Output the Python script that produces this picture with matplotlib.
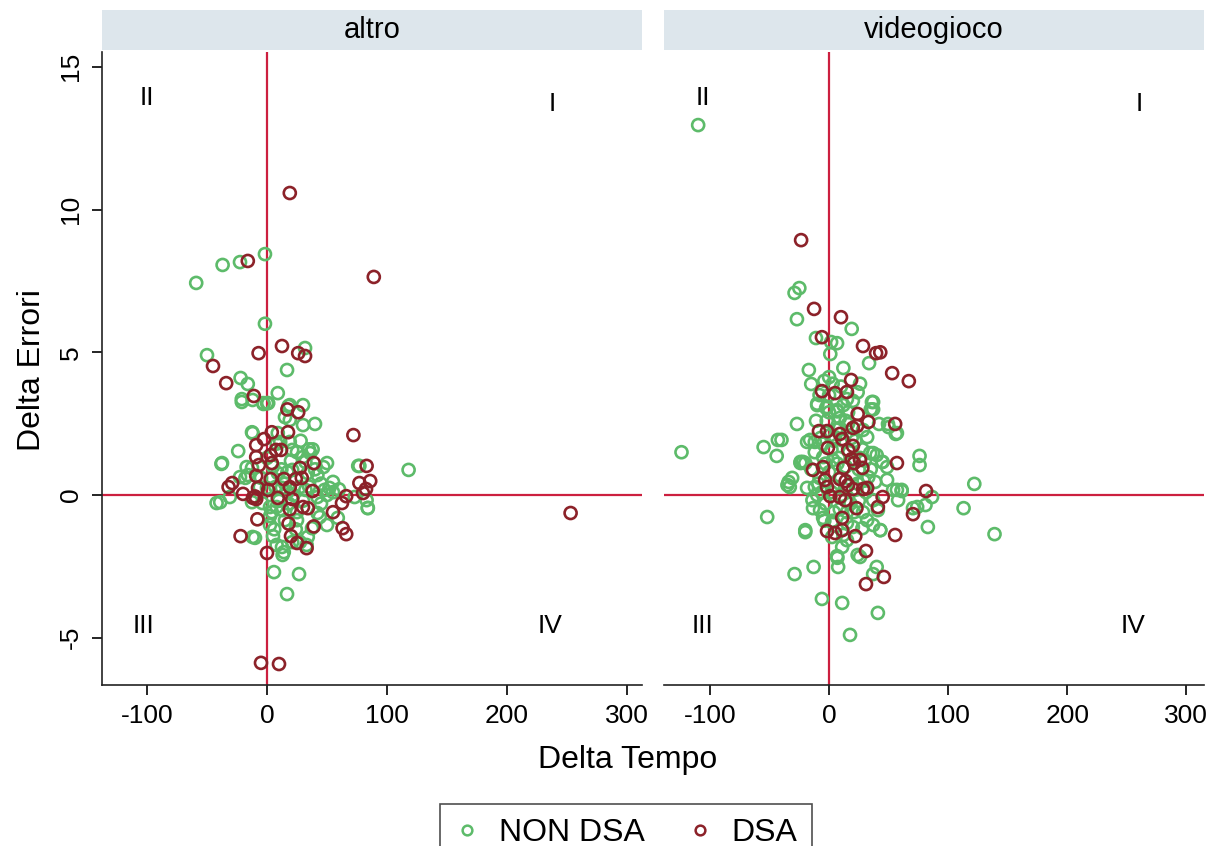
import matplotlib
matplotlib.use("Agg")
import matplotlib.pyplot as plt
from matplotlib.lines import Line2D

plt.rcParams['font.family'] = ['Liberation Sans', 'DejaVu Sans']
plt.rcParams['axes.unicode_minus'] = False

panels = ["altro", "videogioco"]
legend_labels = ["NON DSA", "DSA"]
x_ticks = [-100, 0, 100, 200, 300]
y_ticks = [-5, 0, 5, 10, 15]
x_label = "Delta Tempo"
y_label = "Delta Errori"
quadrants = ["I", "II", "III", "IV"]

# ---- altro: NON DSA (x = Delta Tempo, y = Delta Errori)
altro_non_x = [-59, -37, -22.5, -1.7, -1.7, -50, -22, -16, -21, 9, 31.7, 16.7, 18, -38, -42, 118,
               5.8, 26.7, 16.7, -10, 14, 84, 77, -12.5, -3, 0,
               -21, -12, -3, 1, 19, 30, 15, 19, 30, 40, -12, 9, 11, 19, 21, 35, 36, -24, -37.5,
               30, 32, 50, 47, 76, -17, -12.5, -22.5, -18, -16, 9, 17, 21, 34, 42, 55, 52, 48, 42,
               -6, 0, 7, 12.5, 17, 27.5, 32, -31, -39, -12.5, -4, 2.5, 8, 13, 25, 4, 2.5,
               73, 83, 84, 59, 42, 44, 15, 25, 2.5, 37.5, 34, 50, -12, 5, 8, 12.5, 13, 21, 27.5, 33,
               5, 12, 20, 25, 15, 22, 30, 10, 35, 40, 45, 28, 38, 8, -5, 0, 18, 24, 6, 45, 50, 55, 60]
altro_non_y = [7.43, 8.06, 8.16, 8.44, 6.0, 4.9, 4.1, 3.89, 3.36, 3.57, 5.15, 4.38, 3.12, 1.09, -0.28, 0.88,
               -2.7, -2.77, -3.47, -1.5, -2.0, -0.45, 1.02, 2.2, 3.19, 3.22,
               3.26, 3.33, 3.22, 3.22, 3.15, 3.15, 2.73, 2.63, 2.45, 2.49, 2.17, 2.17, 1.86, 1.86, 1.58, 1.6, 1.47, 1.54, 1.12,
               1.33, 1.16, 1.12, 0.98, 1.02, 0.98, 0.95, 0.63, 0.6, 0.7, 0.77, 0.8, 0.88, 0.77, 0.7, 0.46, 0.25, 0.18, -0.07,
               0.28, 0.25, 0.28, 0.25, 0.1, 0.28, 0.18, -0.07, -0.25, -0.25, -0.28, -0.42, -0.42, -0.53, -0.6, -0.6, -0.74,
               -0.07, -0.18, -0.46, -0.8, -0.63, -0.77, -0.88, -0.88, -1.05, -1.16, -1.47, -1.05, -1.47, -1.44, -1.75, -1.82, -2.1, -1.65, -1.65, -1.75,
               1.0, 0.9, 1.2, 1.5, 0.4, 0.0, -0.2, -0.2, 0.3, 0.9, 0.4, 1.9, 1.6, 1.8, 0.6, 1.3, -0.3, -1.2, -1.2, -0.3, 0.0, 0.1, 0.2]

# ---- altro: DSA
altro_dsa_x = [-16, 19, 89, -45, -7, 12.5, 26, 31.7, -34, -11, 17, 26, 4, 17.5, -2.5, -9, 7.5, 11.7, 3, -9,
               4, -6.7, 39, 27.5, -9, 3, 14, 24, 29, -29, -32, 19, 1, 38, -20, -11.7, -9, -10, 9, 21,
               19, 30, 34, 55, 66, 62.5, -8, 18, 39, 63, 66, -22, 20, 25, 33, 0, 72, 83, 77, 86,
               82.5, 80, 253, -5, 10, -7.5]
altro_dsa_y = [8.2, 10.58, 7.64, 4.52, 4.97, 5.22, 4.97, 4.87, 3.92, 3.47, 3.0, 2.9, 2.2, 2.2, 1.96, 1.75, 1.58, 1.58, 1.4, 1.33,
               1.12, 1.05, 1.12, 0.95, 0.67, 0.56, 0.56, 0.56, 0.6, 0.42, 0.28, 0.28, 0.18, 0.14, 0.04, -0.1, -0.14, -0.05, -0.1, -0.14,
               -0.5, -0.42, -0.46, -0.6, -0.04, -0.28, -0.85, -1.0, -1.1, -1.16, -1.37, -1.44, -1.44, -1.68, -1.86, -2.03, 2.1, 1.02, 0.42, 0.49,
               0.21, 0.07, -0.63, -5.88, -5.92, 0.25]

# ---- videogioco: NON DSA
video_non_x = [-110, -29, -25, -27, 19, -11, 1.7, 6.7, 1, 33.6, -17, 0, 12, -15, -8, -10, -2.5, 15, 37, 35, 7, 16,
               -27, 42, 50, 56, -43, -55, -124, -44, -52, -24, -22, -34, -33, -31, -20, -13, -29, 7, 7.6, 26, 40, 37,
               -6, 11, 41, 17.6, 122, 113, 83, 76, 76, 57, 61, 58, 70.5, 74, 81, 86.5, 44.5, 37, 43, 139,
               -10, -1.7, 6.7, 12, 36, 37, -16, -18.5, -12, 5, 9, 28.5, 32, 49.5, 57, 34.5, 40, 45, 48.7,
               -24, -20, -5, 3.4, -35, -18.5, -12, -10, -14, 33, 38.7, 48.7, 53.8, 61, -13.5, -7.6, 37, 41,
               28.5, 32, -5, 2.5, 15, 20, 28, 37, 43, -20, 2.5, 12, 11, 15, 6.7, 24, -40,
               -5, 2, 8, 14, 20, 25, -8, 0, 5, 10, 18, 24, -3, 4, 12, 28, -12, 6, 16, 22, 30, -6, 2, 35,
               15, 25, -2, 9, 0, -4, 3, 20, 24, 26, 10,
               -9, -3, 4, 10, 17, 23, 29, -15, -7, 1, 7, 13, 19, 26, -4, 3, 9, 21, 31, -11, 0, 14]
video_non_y = [12.96, 7.08, 7.25, 6.16, 5.82, 5.5, 5.36, 5.32, 4.94, 4.62, 4.38, 4.13, 4.45, 3.89, 3.5, 3.2, 3.05, 3.36, 3.26, 3.0, 2.93, 2.9,
               2.49, 2.49, 2.38, 2.14, 1.93, 1.68, 1.5, 1.37, -0.77, 1.12, 1.16, 0.46, 0.28, 0.6, -1.3, -2.52, -2.77, -2.2, -2.52, -2.17, -2.52, -2.77,
               -3.64, -3.78, -4.13, -4.9, 0.39, -0.46, -1.12, 1.37, 1.05, 0.18, 0.14, -0.18, -0.46, -0.42, -0.35, -0.07, 1.16, 1.47, -1.23, -1.37,
               3.15, 3.08, 2.98, 3.15, 3.26, 3.0, 1.93, 1.86, 1.86, 2.03, 2.35, 2.28, 2.03, 2.49, 2.17, 1.47, 1.4, 1.16, 0.98,
               1.16, 1.12, 1.33, 1.23, 0.35, 0.25, 0.28, 0.0, -0.18, 0.63, 0.46, 0.53, 0.18, 0.18, -0.46, -0.53, -0.18, -0.53,
               -0.6, -0.88, -0.8, -0.95, -0.98, -1.12, -1.16, -1.05, -1.23, -1.23, -1.47, -1.4, -1.82, -1.58, -2.14, -2.1, 1.93,
               1.8, 1.6, 1.3, 1.0, 0.7, 0.9, 0.6, 0.8, 0.3, 0.0, -0.3, 0.4, -0.3, -0.6, 1.9, 1.6, 1.5, 2.3, 2.5, 1.9, 1.2, 0.1, 0.1, 0.9,
               -0.6, -0.2, 2.6, 2.7, 3.5, 4.0, 3.9, 3.3, 3.6, 3.9, 3.8,
               0.4, 1.1, 1.9, 0.6, 1.5, 0.2, 0.5, 0.9, 2.0, 2.1, 1.1, 0.2, 2.0, 1.3, -0.9, -0.9, -0.5, -0.6, 0.1, 2.6, 2.9, 2.6]

# ---- videogioco: DSA
video_dsa_x = [-23.5, -12.6, 10, -6, 28.5, 39.5, 43, 53, 67, 18.5, -6, 5, 15, 24, 33, 55.5, 23.5, 20, -8.5, -1.7,
               9, 11, -1, 16, 20, 19, 21, 26, 28, 57, -13.5, -5, 12, -3.4, 9, 14, 16, -1.7, 20, 28.5,
               32, 1, 9, 13.5, 45, 81.5, 41, 23, 70.5, 11, -1.7, 5, 11, 22, 55.5, 31, 46, 31]
video_dsa_y = [8.93, 6.52, 6.23, 5.53, 5.22, 4.97, 5.0, 4.27, 3.99, 4.03, 3.64, 3.57, 3.61, 2.84, 2.56, 2.49, 2.42, 2.35, 2.24, 2.24,
               2.14, 1.96, 1.65, 1.58, 1.72, 1.26, 1.12, 1.23, 0.95, 1.12, 0.88, 0.98, 0.95, 0.53, 0.56, 0.49, 0.35, 0.28, 0.21, 0.21,
               0.25, -0.04, -0.07, -0.18, -0.07, 0.14, -0.42, -0.46, -0.67, -0.8, -1.26, -1.33, -1.23, -1.44, -1.4, -1.96, -2.87, -3.12]

green = '#5dbb6a'
dark = '#8c2229'
refcol = '#cc1f3f'
strip_col = '#dde6ec'

W, H = 1218, 846
fig = plt.figure(figsize=(W / 100, H / 100), dpi=100)

def fx(px):
    return px / W

def fy(py):
    return 1 - py / H

axes_px = [(102, 642), (664, 1204)]
xlims = [(-137.5, 312.5), (-138.7, 315.0)]
ylim = (-6.655, 15.52)
data = [((altro_non_x, altro_non_y), (altro_dsa_x, altro_dsa_y)),
        ((video_non_x, video_non_y), (video_dsa_x, video_dsa_y))]
quad_pos = [
    {"I": (238, 13.7), "II": (-100, 13.9), "III": (-103, -4.6), "IV": (236, -4.6)},
    {"I": (261, 13.7), "II": (-106, 13.9), "III": (-106, -4.6), "IV": (255, -4.6)},
]

top_px, bot_px = 52, 685
for i, (l, r) in enumerate(axes_px):
    ax = fig.add_axes([fx(l), fy(bot_px), fx(r - l), (bot_px - top_px) / H])
    (gx, gy), (dx, dy) = data[i]
    ax.axvline(0, color=refcol, lw=1.6, zorder=1)
    ax.axhline(0, color=refcol, lw=1.6, zorder=1)
    ax.scatter(gx, gy, s=75, facecolors='none', edgecolors=green, linewidths=1.9, zorder=2)
    ax.scatter(dx, dy, s=75, facecolors='none', edgecolors=dark, linewidths=1.9, zorder=3)
    ax.set_xlim(*xlims[i])
    ax.set_ylim(*ylim)
    ax.set_xticks(x_ticks)
    ax.set_yticks(y_ticks)
    ax.spines['top'].set_visible(False)
    ax.spines['right'].set_visible(False)
    for s in ('left', 'bottom'):
        ax.spines[s].set_linewidth(1.2)
        ax.spines[s].set_color('#222222')
    ax.tick_params(axis='both', direction='out', length=7.5, width=1.2, labelsize=19, pad=6)
    if i == 0:
        for lab in ax.get_yticklabels():
            lab.set_rotation(90)
            lab.set_va('center')
    else:
        ax.spines['left'].set_visible(False)
        ax.tick_params(axis='y', left=False, labelleft=False)
    for q in quadrants:
        qx, qy = quad_pos[i][q]
        ax.text(qx, qy, q, fontsize=19, ha='center', va='center')
    # strip header
    sax = fig.add_axes([fx(l), fy(top_px - 2), fx(r - l), (top_px - 2 - 10) / H])
    sax.set_facecolor(strip_col)
    for s in sax.spines.values():
        s.set_visible(False)
    sax.set_xticks([])
    sax.set_yticks([])
    sax.text(0.5, 0.5, panels[i], fontsize=21, ha='center', va='center', transform=sax.transAxes)

fig.text(fx(628), fy(760), x_label, fontsize=23, ha='center', va='center')
fig.text(fx(32), fy(370), y_label, fontsize=23, ha='center', va='center', rotation=90)

handles = [Line2D([], [], marker='o', linestyle='none', markerfacecolor='none',
                  markeredgecolor=c, markeredgewidth=1.8, markersize=7)
           for c in (green, dark)]
leg = fig.legend(handles, legend_labels, loc='upper center', bbox_to_anchor=(fx(626), fy(788)),
                 ncol=2, fontsize=23, frameon=True, fancybox=False, edgecolor='#222222',
                 handlelength=0.8, handletextpad=0.6, columnspacing=1.3, borderpad=0.45)
leg.get_frame().set_linewidth(1.2)

fig.savefig('out.png', dpi=100, facecolor='white')
